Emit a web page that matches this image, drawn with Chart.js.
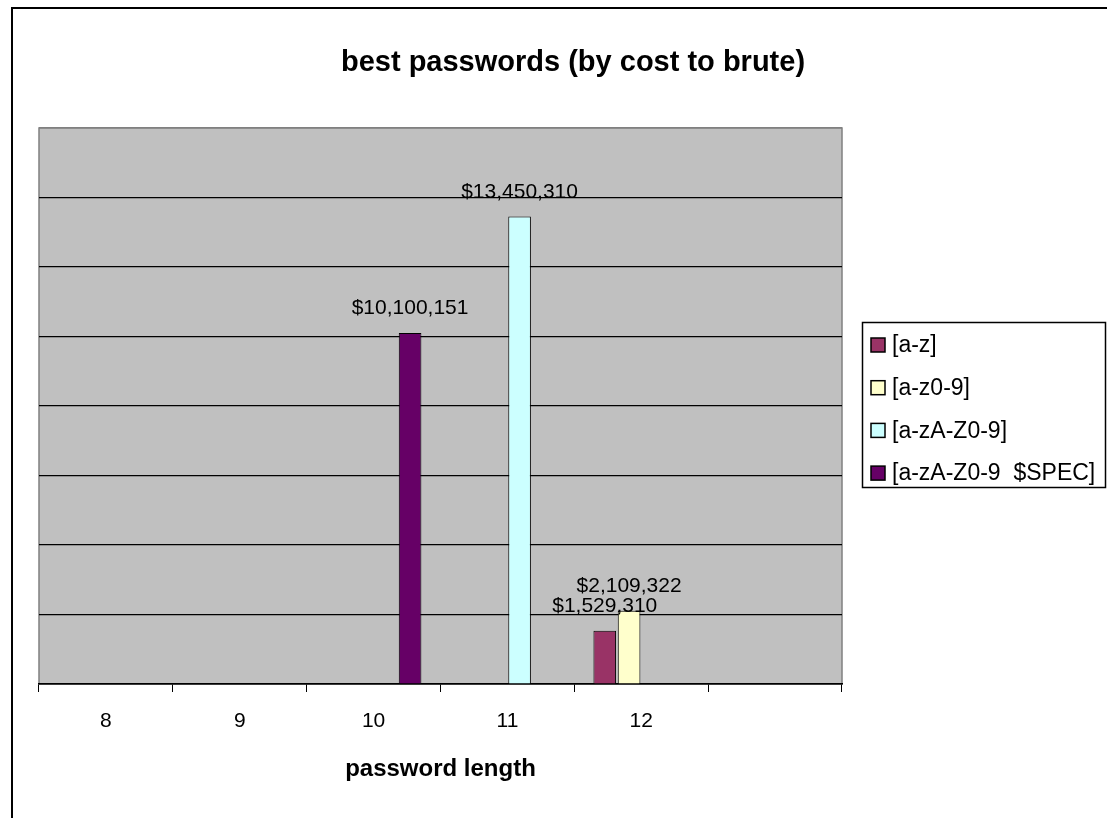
<!DOCTYPE html>
<html>
<head>
<meta charset="utf-8">
<title>best passwords (by cost to brute)</title>
<script src="https://cdn.jsdelivr.net/npm/chart.js@4/dist/chart.umd.min.js"></script>
<style>
  html, body { margin: 0; padding: 0; background: #fff; overflow: hidden; }
  #wrap { position: relative; width: 1107px; height: 818px; }
  #frame { position: absolute; left: 11px; top: 7px; width: 1200px; height: 900px;
           border-left: 2px solid #000; border-top: 2px solid #000; }
  #chart { position: absolute; left: 0; top: 0; }
</style>
</head>
<body>
<div id="wrap">
  <div id="frame"></div>
  <canvas id="chart" width="1107" height="818"></canvas>
</div>
<script>
// password lengths on the x axis (last slot is empty, like the original sheet)
const lengths = ['8', '9', '10', '11', '12', ''];

// cost to brute force, one series per character set
const seriesNames = ['[a-z]', '[a-z0-9]', '[a-zA-Z0-9]', '[a-zA-Z0-9  $SPEC]'];
const azCost       = [null, null, null, null, 1529310, null];
const az09Cost     = [null, null, null, null, 2109322, null];
const azAZ09Cost   = [null, null, null, 13450310, null, null];
const specCost     = [null, null, 10100151, null, null, null];

const seriesColors = ['#993366', '#FFFFCC', '#CCFFFF', '#660066'];

const yMax = 16000000;
const yStep = 2000000;

Chart.defaults.font.family = '"Liberation Sans", Arial, sans-serif';
Chart.defaults.color = '#000';

// gray plot area with a thin border, like Excel
const plotBackground = {
    id: 'plotBackground',
    beforeDraw(chart) {
        const {ctx, chartArea: a} = chart;
        ctx.save();
        ctx.fillStyle = '#C0C0C0';
        ctx.fillRect(a.left, a.top, a.right - a.left, a.bottom - a.top);
        ctx.strokeStyle = '#808080';
        ctx.lineWidth = 1.5;
        ctx.strokeRect(a.left, a.top, a.right - a.left, a.bottom - a.top);
        ctx.restore();
    }
};

// dollar labels above each bar
const valueLabels = {
    id: 'valueLabels',
    afterDatasetsDraw(chart) {
        const ctx = chart.ctx;
        ctx.save();
        ctx.font = '21px "Liberation Sans", Arial, sans-serif';
        ctx.fillStyle = '#000';
        ctx.textAlign = 'center';
        ctx.textBaseline = 'alphabetic';
        chart.data.datasets.forEach(function (ds, i) {
            const meta = chart.getDatasetMeta(i);
            meta.data.forEach(function (bar, j) {
                const v = ds.data[j];
                if (v === null || v === undefined) return;
                ctx.fillText('$' + v.toLocaleString('en-US'), bar.x, bar.y - 19);
            });
        });
        ctx.restore();
    }
};

// boxed legend on the right
const boxLegend = {
    id: 'boxLegend',
    afterDraw(chart) {
        const {ctx, chartArea: a} = chart;
        const left = a.right + 20;
        const mid = (a.top + a.bottom) / 2;
        const top = Math.round(mid - 84);
        const rowH = 42.7;
        ctx.save();
        ctx.strokeStyle = '#000';
        ctx.lineWidth = 1.5;
        ctx.strokeRect(left + 0.5, top + 0.5, 243, 165);
        ctx.font = '23px "Liberation Sans", Arial, sans-serif';
        ctx.textBaseline = 'middle';
        ctx.textAlign = 'left';
        chart.data.datasets.forEach(function (ds, i) {
            const sy = top + 16 + i * rowH;
            ctx.fillStyle = ds.backgroundColor;
            ctx.fillRect(left + 9, sy, 14, 14);
            ctx.strokeStyle = '#000';
            ctx.lineWidth = 1.5;
            ctx.strokeRect(left + 9, sy, 14, 14);
            ctx.fillStyle = '#000';
            ctx.fillText(ds.label, left + 30, sy + 8);
        });
        ctx.restore();
    }
};

function makeSet(i, values) {
    return {
        label: seriesNames[i],
        data: values,
        backgroundColor: seriesColors[i],
        borderColor: '#000',
        borderWidth: 1,
        categoryPercentage: 4 / 5.5,
        barPercentage: 0.93
    };
}

new Chart(document.getElementById('chart'), {
    type: 'bar',
    data: {
        labels: lengths,
        datasets: [
            makeSet(0, azCost),
            makeSet(1, az09Cost),
            makeSet(2, azAZ09Cost),
            makeSet(3, specCost)
        ]
    },
    options: {
        responsive: false,
        animation: false,
        layout: { padding: { left: 39, right: 0, top: 0, bottom: 0 } },
        plugins: {
            legend: { display: false },
            tooltip: { enabled: false },
            title: {
                display: true,
                text: 'best passwords (by cost to brute)',
                color: '#000',
                font: { size: 29, weight: 'bold' },
                padding: { top: 45.6, bottom: 47.6 }
            }
        },
        scales: {
            x: {
                offset: true,
                grid: {
                    offset: true,
                    drawOnChartArea: false,
                    drawTicks: true,
                    tickLength: 8,
                    color: '#000'
                },
                border: { display: true, color: '#000', width: 1.5 },
                ticks: { font: { size: 21 }, color: '#000', padding: 17 },
                title: {
                    display: true,
                    text: 'password length',
                    color: '#000',
                    font: { size: 24, weight: 'bold' },
                    padding: { top: 0, bottom: 34 }
                },
                afterFit: function (scale) { scale.height = 134; }
            },
            y: {
                min: 0,
                max: yMax,
                ticks: { display: false, stepSize: yStep },
                grid: {
                    drawTicks: false,
                    lineWidth: 1.2,
                    color: function (c) { return c.tick && c.tick.value === yMax ? '#808080' : '#000'; }
                },
                border: { display: false },
                afterFit: function (scale) { scale.width = 0; }
            },
            // empty axis that only keeps room for the legend box
            yRight: {
                position: 'right',
                display: true,
                ticks: { display: false },
                grid: { display: false },
                border: { display: false },
                afterFit: function (scale) { scale.width = 265; }
            }
        }
    },
    plugins: [plotBackground, valueLabels, boxLegend]
});
</script>
</body>
</html>
